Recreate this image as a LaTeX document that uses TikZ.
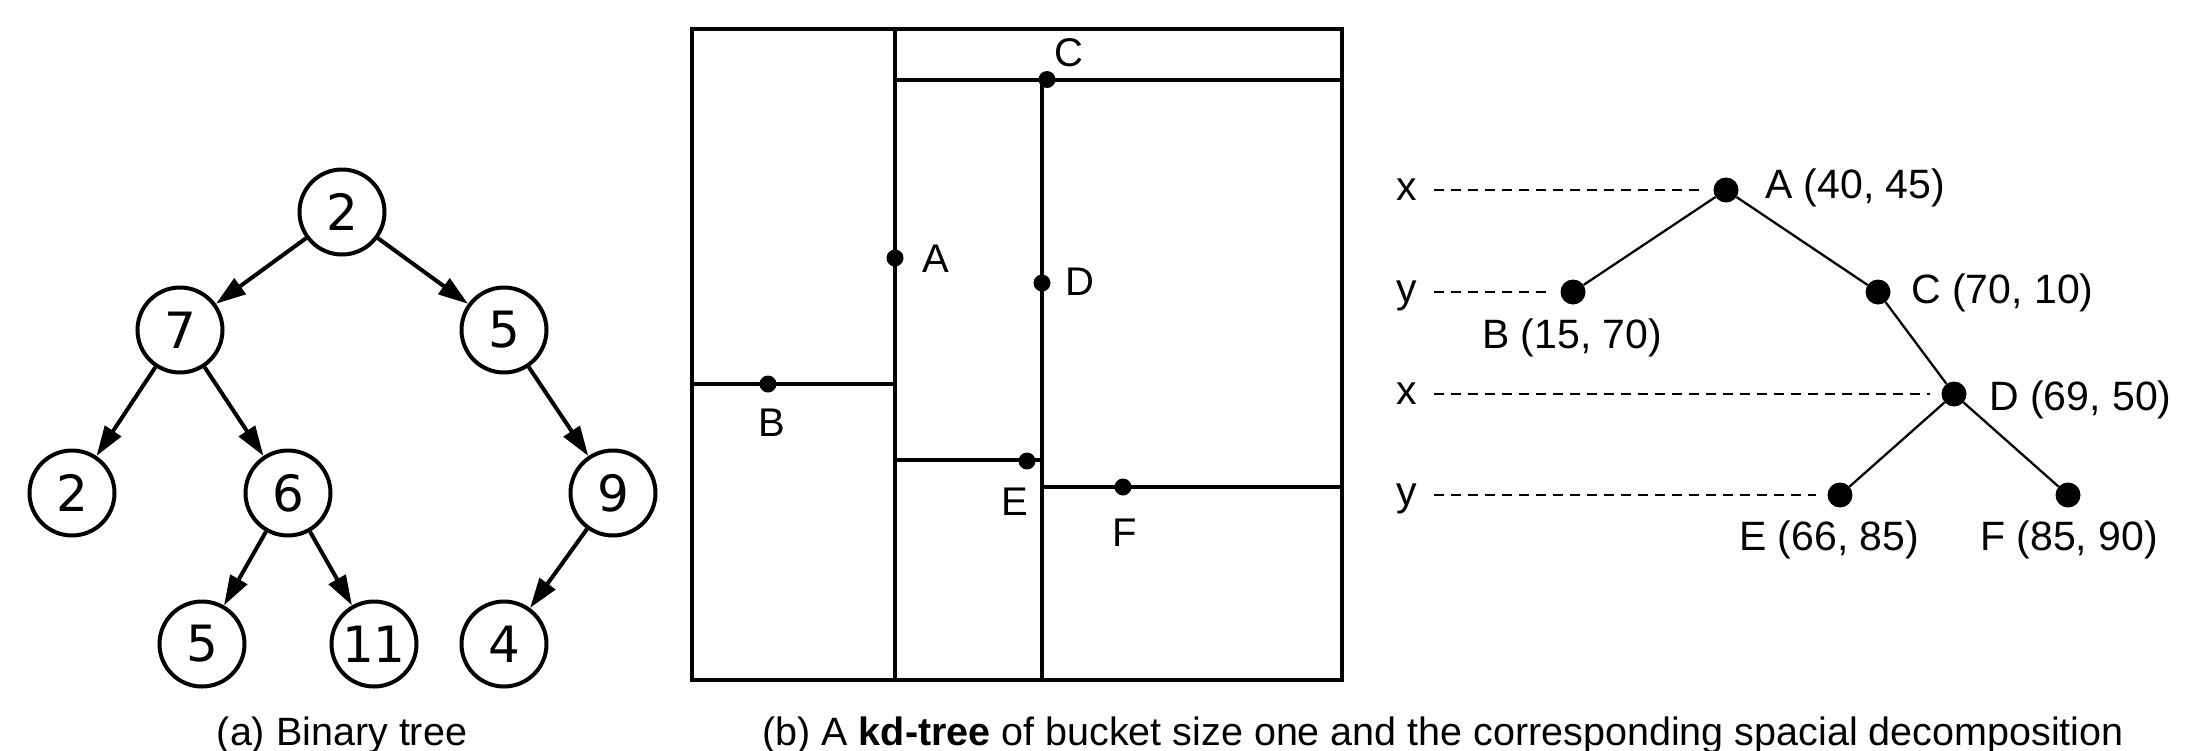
\documentclass[tikz,border=0pt]{standalone}
\usepackage{fontspec}
\setmainfont{Liberation Sans}
\newfontfamily\dejavu{DejaVu Sans}
\usetikzlibrary{arrows.meta}
\begin{document}
\begin{tikzpicture}[x=1pt,y=-1pt,
  bt/.style={circle,draw,line width=4pt,minimum size=85pt,inner sep=0pt,font=\dejavu\fontsize{50}{60}\selectfont},
  btedge/.style={line width=4pt,-{Triangle[length=30pt,width=19pt]}},
  kdline/.style={line width=4pt},
  kddot/.style={circle,fill,inner sep=0pt,minimum size=17pt},
  kdlab/.style={inner sep=0pt,font=\fontsize{40}{48}\selectfont},
  tdot/.style={circle,fill,inner sep=0pt,minimum size=25pt},
  tedge/.style={line width=2.3pt},
  tdash/.style={line width=2pt,dash pattern=on 10pt off 7pt,shorten <=27pt,shorten >=11pt},
  tlab/.style={inner sep=0pt,font=\fontsize{41}{49}\selectfont},
  captext/.style={inner sep=0pt,font=\fontsize{39.5}{47}\selectfont}]
\useasboundingbox (0,0) rectangle (2200,750);

% (a) binary tree
\node[bt] (n1) at (342,212) {2};
\node[bt] (n2) at (180,330) {7};
\node[bt] (n3) at (504,330) {5};
\node[bt] (n4) at (72,493) {2};
\node[bt] (n5) at (288,493) {6};
\node[bt] (n6) at (613,493) {9};
\node[bt] (n7) at (202,644) {5};
\node[bt] (n8) at (374,644) {11};
\node[bt] (n9) at (504,644) {4};
\draw[btedge] (n1) -- (n2);
\draw[btedge] (n1) -- (n3);
\draw[btedge] (n2) -- (n4);
\draw[btedge] (n2) -- (n5);
\draw[btedge] (n3) -- (n6);
\draw[btedge] (n5) -- (n7);
\draw[btedge] (n5) -- (n8);
\draw[btedge] (n6) -- (n9);
\node[captext,anchor=base] (capa) at (342,745) {(a) Binary tree};

% (b) spatial decomposition
\draw[kdline] (692,29) rectangle (1342,680);
\draw[kdline] (895,29) -- (895,680);
\draw[kdline] (895,79.5) -- (1342,79.5);
\draw[kdline] (1042,79.5) -- (1042,680);
\draw[kdline] (692,384) -- (895,384);
\draw[kdline] (895,460) -- (1042,460);
\draw[kdline] (1042,487) -- (1342,487);
\node[kddot] (pA) at (895,258) {};
\node[kddot] (pB) at (768,384) {};
\node[kddot] (pC) at (1047,79.5) {};
\node[kddot] (pD) at (1042,283) {};
\node[kddot] (pE) at (1027,461) {};
\node[kddot] (pF) at (1123,487) {};
\node[kdlab] (qA) at (936,259) {A};
\node[kdlab] (qB) at (772,423) {B};
\node[kdlab] (qC) at (1069,53) {C};
\node[kdlab] (qD) at (1080,282) {D};
\node[kdlab] (qE) at (1015,502) {E};
\node[kdlab] (qF) at (1124.5,533) {F};

% (b) kd-tree
\node[tdot] (tA) at (1726,190) {};
\node[tdot] (tB) at (1573,292) {};
\node[tdot] (tC) at (1878,292) {};
\node[tdot] (tD) at (1954,394) {};
\node[tdot] (tE) at (1840,495) {};
\node[tdot] (tF) at (2068,495) {};
\draw[tedge] (tA) -- (tB);
\draw[tedge] (tA) -- (tC);
\draw[tedge] (tC) -- (tD);
\draw[tedge] (tD) -- (tE);
\draw[tedge] (tD) -- (tF);
\node[tlab,anchor=base] (l1) at (1407,200.7) {x};
\node[tlab,anchor=base] (l2) at (1407,302.5) {y};
\node[tlab,anchor=base] (l3) at (1407,404.7) {x};
\node[tlab,anchor=base] (l4) at (1407,505.5) {y};
\draw[tdash] (l1.center |- tA) -- (tA);
\draw[tdash] (l2.center |- tB) -- (tB);
\draw[tdash] (l3.center |- tD) -- (tD);
\draw[tdash] (l4.center |- tE) -- (tE);
\node[tlab,anchor=base west] (kA) at (1765,198) {A (40, 45)};
\node[tlab,anchor=base west] (kB) at (1482,348) {B (15, 70)};
\node[tlab,anchor=base west] (kC) at (1911,303) {C (70, 10)};
\node[tlab,anchor=base west] (kD) at (1989,410) {D (69, 50)};
\node[tlab,anchor=base west] (kE) at (1739,550) {E (66, 85)};
\node[tlab,anchor=base west] (kF) at (1980,550) {F (85, 90)};
\node[captext,anchor=base] (capb) at (1443,745) {(b) A \textbf{kd-tree} of bucket size one and the corresponding spacial decomposition};
\end{tikzpicture}
\end{document}
